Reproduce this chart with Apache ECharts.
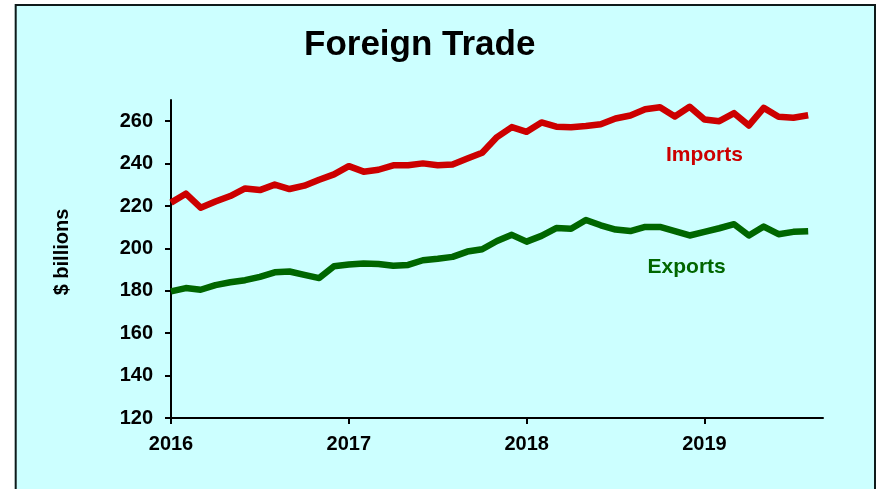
<!DOCTYPE html>
<html>
<head>
<meta charset="utf-8">
<script src="https://cdn.jsdelivr.net/npm/echarts@6/dist/echarts.min.js"></script>
<style>html,body{margin:0;padding:0;background:#fff}#c{width:882px;height:489px}</style>
</head>
<body>
<div id="c"></div>
<script>
var months = ['2016-01','2016-02','2016-03','2016-04','2016-05','2016-06','2016-07','2016-08','2016-09','2016-10','2016-11','2016-12',
'2017-01','2017-02','2017-03','2017-04','2017-05','2017-06','2017-07','2017-08','2017-09','2017-10','2017-11','2017-12',
'2018-01','2018-02','2018-03','2018-04','2018-05','2018-06','2018-07','2018-08','2018-09','2018-10','2018-11','2018-12',
'2019-01','2019-02','2019-03','2019-04','2019-05','2019-06','2019-07','2019-08','2019-09'];
var yearLabels = ['2016','2017','2018','2019'];
var yTicks = [120,140,160,180,200,220,240,260];
var imports = [221.6,225.8,219.2,222.1,224.7,228.3,227.5,230.1,228.0,229.6,232.4,234.9,
238.8,236.2,237.1,239.2,239.2,240.1,239.2,239.6,242.4,245.1,252.5,257.2,
255.0,259.4,257.4,257.2,257.7,258.6,261.3,262.7,265.6,266.6,262.2,266.8,
260.8,260.0,263.8,258.0,266.3,262.1,261.6,262.8];
var exports = [179.7,181.3,180.5,182.7,184.0,185.0,186.6,188.7,189.1,187.5,186.0,191.6,
192.4,192.9,192.6,191.8,192.2,194.4,195.1,196.0,198.5,199.6,203.5,206.4,
203.2,205.9,209.6,209.3,213.4,210.9,208.9,208.2,210.1,210.1,208.2,206.1,
207.8,209.5,211.4,206.1,210.3,206.7,207.8,208.1];

var FONT = '"Liberation Sans", Arial, sans-serif';
var chart = echarts.init(document.getElementById('c'), null, {renderer: 'canvas'});
var yearTick = function (i) { return i % 12 === 0; };
chart.setOption({
  animation: false,
  backgroundColor: '#CCFFFF',
  title: {
    text: 'Foreign Trade', left: 304, top: 28, padding: 0,
    textStyle: {fontFamily: FONT, fontWeight: 'bold', fontSize: 35, color: '#000'}
  },
  graphic: [
    {type: 'rect', silent: true, z: 100, shape: {x: 0, y: 0, width: 882, height: 4}, style: {fill: '#fff'}},
    {type: 'rect', silent: true, z: 100, shape: {x: 0, y: 0, width: 14.7, height: 489}, style: {fill: '#fff'}},
    {type: 'rect', silent: true, z: 100, shape: {x: 876, y: 0, width: 6, height: 489}, style: {fill: '#fff'}},
    {type: 'rect', silent: true, z: 101, shape: {x: 15.7, y: 5, width: 859.3, height: 520}, style: {fill: 'none', stroke: '#0f1a1a', lineWidth: 2}}
  ],
  grid: {left: 171, right: 59, top: 100, bottom: 71, containLabel: false},
  xAxis: {
    type: 'category', data: months, boundaryGap: false,
    axisLine: {lineStyle: {color: '#000', width: 2}},
    axisTick: {interval: yearTick, length: 6, lineStyle: {color: '#000', width: 2}},
    axisLabel: {
      interval: yearTick, margin: 16,
      formatter: function (v, i) { return yearLabels[Math.floor(i / 12)]; },
      fontFamily: FONT, fontWeight: 'bold', fontSize: 20, color: '#000'
    },
    splitLine: {show: false}
  },
  yAxis: {
    type: 'value', min: 120, max: 270, interval: 20,
    name: '$ billions', nameLocation: 'middle', nameGap: 99, nameRotate: 90,
    nameTextStyle: {fontFamily: FONT, fontWeight: 'bold', fontSize: 20, color: '#000', padding: [0, 0, 0, 14]},
    axisLine: {show: true, lineStyle: {color: '#000', width: 2}},
    axisTick: {show: true, customValues: yTicks, length: 6, lineStyle: {color: '#000', width: 2}},
    axisLabel: {customValues: yTicks, margin: 18, fontFamily: FONT, fontWeight: 'bold', fontSize: 20, color: '#000'},
    splitLine: {show: false}
  },
  series: [
    {
      name: 'Imports', type: 'line', data: imports, showSymbol: false,
      lineStyle: {color: '#CC0000', width: 6.5, join: 'round'}, itemStyle: {color: '#CC0000'},
      markPoint: {
        symbol: 'circle', symbolSize: 0,
        data: [{coord: [months[36], 244]}],
        label: {show: true, position: 'inside', formatter: 'Imports', fontFamily: FONT, fontWeight: 'bold', fontSize: 21, color: '#CC0000'}
      }
    },
    {
      name: 'Exports', type: 'line', data: exports, showSymbol: false,
      lineStyle: {color: '#006600', width: 6.5, join: 'round'}, itemStyle: {color: '#006600'},
      markPoint: {
        symbol: 'circle', symbolSize: 0,
        data: [{coord: [months[35], 191]}],
        label: {show: true, position: 'inside', offset: [-3, 0], formatter: 'Exports', fontFamily: FONT, fontWeight: 'bold', fontSize: 21, color: '#006600'}
      }
    }
  ]
});
</script>
</body>
</html>
